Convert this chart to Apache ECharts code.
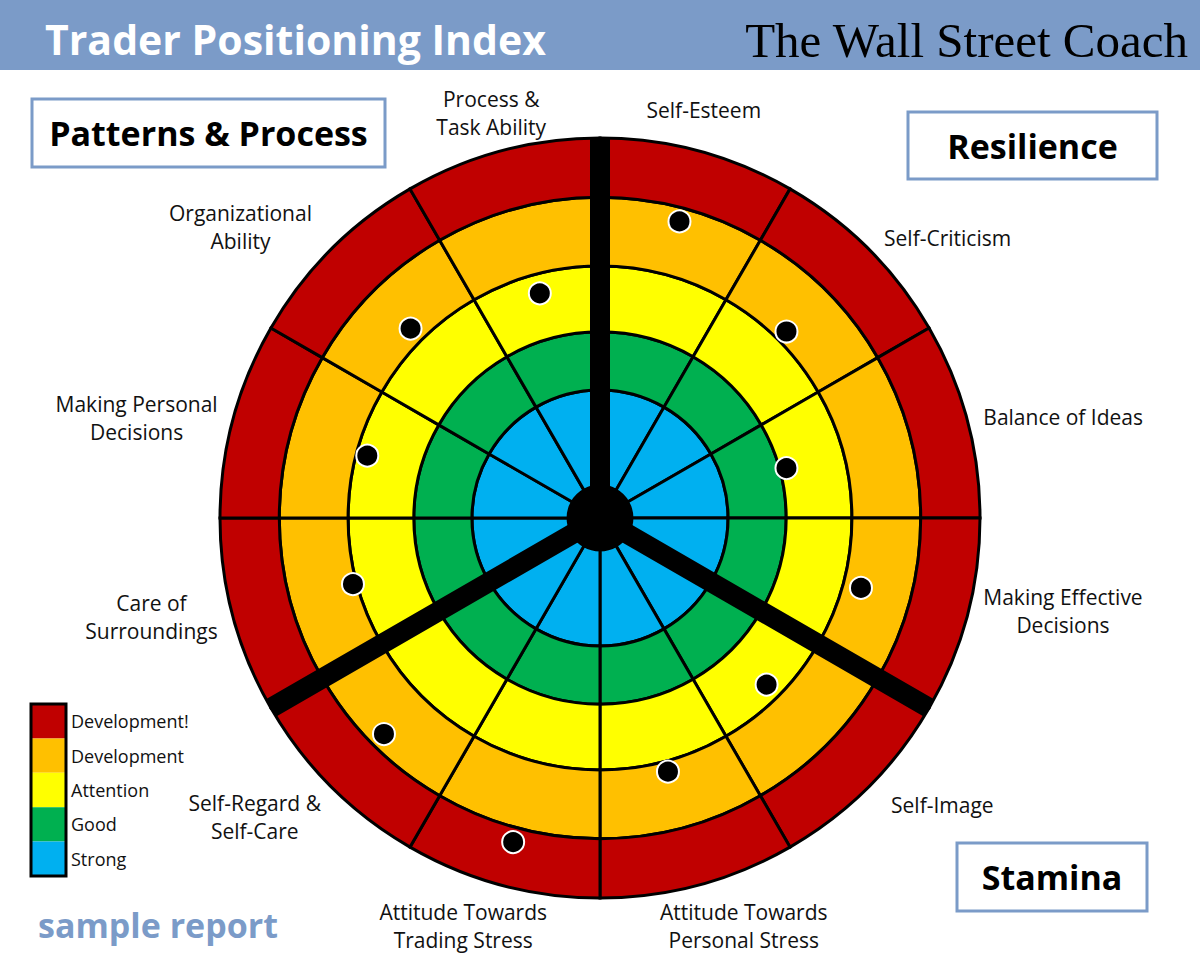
<!DOCTYPE html>
<html><head><meta charset="utf-8">
<script src="https://cdn.jsdelivr.net/npm/echarts@6/dist/echarts.min.js"></script>
<style>html,body{margin:0;padding:0;background:#fff}#c{width:1200px;height:975px}</style>
</head><body><div id="c"></div>
<script>
// ---------- data ----------
const categories = [
  'Self-Esteem', 'Self-Criticism', 'Balance of Ideas', 'Making Effective\nDecisions',
  'Self-Image', 'Attitude Towards\nPersonal Stress', 'Attitude Towards\nTrading Stress', 'Self-Regard &\nSelf-Care',
  'Care of\nSurroundings', 'Making Personal\nDecisions', 'Organizational\nAbility', 'Process &\nTask Ability'
];
const groups = ['Resilience', 'Stamina', 'Patterns & Process'];
const scores = [80.8, 69.4, 50.8, 71.1, 62.0, 69.1, 88.3, 80.4, 67.3, 63.4, 70.5, 61.2];
const levels = ['Strong', 'Good', 'Attention', 'Development', 'Development!'];
const levelUpper = [33.7, 49, 66.3, 84.4, 100];

// ---------- styling / layout ----------
const levelColors = ['#00B0F0', '#00B050', '#FFFF00', '#FFC000', '#C00000'];
const HUB = 8.4;
const BLUE = '#7b9bc8';
const FONT = '"Open Sans", sans-serif';
// label padding [top, right, bottom, left] per category index (layout only)
const labelPad = {
  0: [0, 0, 35, 15], 1: [0, 0, 3, 21], 2: [0, 0, 9, 24], 3: [0, 0, 7, 24],
  4: [10, 0, 0, 28], 5: [21, 0, 0, 95], 6: [21, 81, 0, 0], 7: [8, 16, 0, 0],
  8: [5, 23, 0, 0], 9: [0, 23, 7, 0], 10: [0, 25, 0, 0], 11: [0, 25, 18, 0]
};

const chart = echarts.init(document.getElementById('c'), null, {renderer: 'svg'});

const hubSeries = {
  type: 'bar', coordinateSystem: 'polar', polarIndex: 0, stack: 'rings', name: 'hub',
  data: categories.map(() => HUB), barCategoryGap: '0%', silent: true,
  itemStyle: {color: '#000', borderColor: '#000', borderWidth: 3}, z: 2
};
const ringSeries = levels.map((name, i) => ({
  type: 'bar', coordinateSystem: 'polar', polarIndex: 0, stack: 'rings', name,
  data: categories.map(() => +(levelUpper[i] - (i ? levelUpper[i - 1] : HUB)).toFixed(2)),
  barCategoryGap: '0%', silent: true,
  itemStyle: {color: levelColors[i], borderColor: '#000', borderWidth: 3}, z: 2
}));

const angleData = categories.map((c, i) => ({value: c, textStyle: {padding: labelPad[i] || 0}}));

function box(x, y, w, h, text) {
  return {type: 'group', x, y, children: [
    {type: 'rect', shape: {x: 0, y: 0, width: w, height: h}, style: {fill: '#fff', stroke: BLUE, lineWidth: 3}},
    {type: 'text', x: w / 2, y: h / 2, style: {text, font: 'bold 34px ' + FONT, fill: '#000',
      align: 'center', verticalAlign: 'middle', textAlign: 'center', textVerticalAlign: 'middle'}}
  ]};
}

const option = {
  backgroundColor: '#fff',
  animation: false,
  polar: [
    {center: [600, 518], radius: [0, 380]},
    {center: [600, 518], radius: [0, 380]}
  ],
  radiusAxis: [
    {polarIndex: 0, type: 'value', min: 0, max: 100, show: false},
    {polarIndex: 1, type: 'value', min: 0, max: 100, show: false}
  ],
  angleAxis: [
    {polarIndex: 0, type: 'category', data: angleData, startAngle: 90, clockwise: true,
      axisLine: {show: false}, axisTick: {show: false}, splitLine: {show: false},
      axisLabel: {margin: -8, interval: 0,
        formatter: v => v.split('\n').map(s => '{t|' + s + '}').join('\n'),
        rich: {
          t: {fontSize: 21, fontFamily: FONT, color: '#111', lineHeight: 28, align: 'center'}
        }}},
    {polarIndex: 1, type: 'category', data: groups, startAngle: 90, clockwise: true, z: 10,
      axisLine: {show: false}, axisTick: {show: false}, axisLabel: {show: false},
      splitLine: {show: true, lineStyle: {color: '#000', width: 20}}}
  ],
  legend: {
    data: levels.slice().reverse(), orient: 'vertical', left: 31, top: 704, padding: 0,
    itemWidth: 35, itemHeight: 34.4, itemGap: 0, icon: 'rect', selectedMode: false,
    itemStyle: {borderWidth: 0},
    textStyle: {fontSize: 18, fontFamily: FONT, color: '#111'}
  },
  graphic: [
    {type: 'rect', shape: {x: 0, y: 0, width: 1200, height: 70}, style: {fill: BLUE}, z: 0},
    {type: 'text', x: 45, y: 39, style: {text: 'Trader Positioning Index', font: 'bold 41px ' + FONT, fill: '#fff',
      align: 'left', verticalAlign: 'middle', textAlign: 'left', textVerticalAlign: 'middle'}},
    {type: 'text', x: 1188, y: 40, style: {text: 'The Wall Street Coach', font: '49px "Liberation Serif", serif', fill: '#000',
      align: 'right', verticalAlign: 'middle', textAlign: 'right', textVerticalAlign: 'middle'}},
    box(32, 99, 353, 68, groups[2]),
    box(908, 112, 249, 67, groups[0]),
    box(957, 843, 190, 68, groups[1]),
    {type: 'rect', shape: {x: 31, y: 704, width: 35, height: 172}, style: {fill: 'none', stroke: '#000', lineWidth: 3}, z: 100},
    {type: 'text', x: 38, y: 925, style: {text: 'sample report', font: 'bold 34px ' + FONT, fill: BLUE,
      align: 'left', verticalAlign: 'middle', textAlign: 'left', textVerticalAlign: 'middle'}}
  ],
  series: [hubSeries].concat(ringSeries, [{
    type: 'scatter', coordinateSystem: 'polar', polarIndex: 0, name: 'score',
    data: scores.map((s, i) => [s, i]), symbolSize: 22, z: 20, silent: true,
    itemStyle: {color: '#000', borderColor: '#fff', borderWidth: 2, opacity: 1}
  }])
};
chart.setOption(option);
</script></body></html>
